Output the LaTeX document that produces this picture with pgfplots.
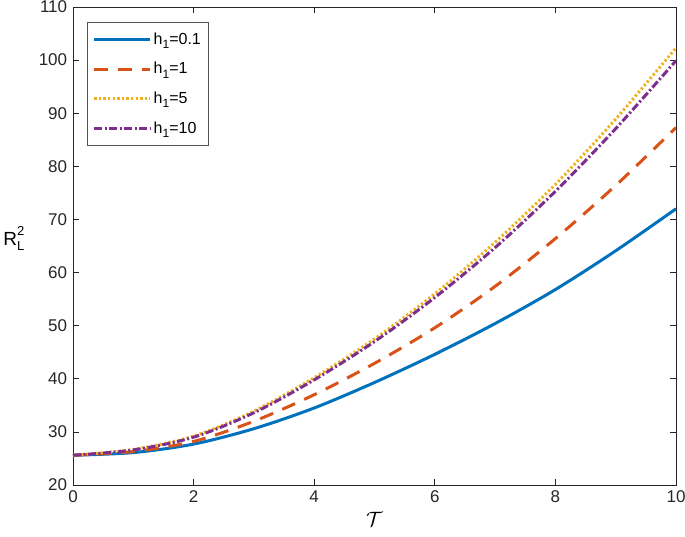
\documentclass[border=0pt]{standalone}
\usepackage{pgfplots}
\pgfplotsset{compat=1.18}
\usepackage{fontspec}
\setmainfont{Liberation Sans}
\definecolor{mblue}{rgb}{0,0.447,0.741}
\definecolor{mred}{rgb}{0.850,0.325,0.098}
\definecolor{myellow}{rgb}{0.929,0.694,0.125}
\definecolor{mpurple}{rgb}{0.494,0.184,0.556}
\definecolor{axgray}{rgb}{0.15,0.15,0.15}
\begin{document}
\fontsize{17}{20}\selectfont
\begin{tikzpicture}
\begin{axis}[
  scale only axis, width=603pt, height=478pt,
  xmin=0, xmax=10, ymin=20, ymax=110,
  xtick={0,2,4,6,8,10}, ytick={20,30,40,50,60,70,80,90,100,110},
  tick align=inside,
  /pgf/number format/assume math mode=true,
  ticklabel style={font=\fontsize{17}{20}\selectfont, text=axgray},
  axis line style={draw=axgray, line width=0.7pt},
  every tick/.style={draw=axgray, line width=0.7pt},
  major tick length=6pt,
  xlabel={$\mathcal{T}$},
  xlabel style={font=\fontsize{22}{24}\selectfont, yshift=2pt},
  ylabel={R\makebox[0pt][l]{\raisebox{-0.55ex}{\fontsize{13}{13}\selectfont L}}\raisebox{0.95ex}{\fontsize{13}{13}\selectfont 2}},
  ylabel style={rotate=-90, font=\fontsize{19}{21}\selectfont, at={(axis description cs:-0.098,0.515)}, anchor=center},
  legend style={at={(0.023,0.968)}, anchor=north west, draw=axgray!80, line width=0.7pt,
    font=\fontsize{16}{18}\selectfont, row sep=11.5pt, inner xsep=5.5pt, inner ysep=8pt},
  legend cell align=left,
  legend image code/.code={\draw[#1] (0pt,0pt) -- (56pt,0pt);},
]
\addplot[mblue, line width=3pt, smooth] coordinates {
(0,25.6) (1,26.1) (2,27.7) (3,30.6) (4,34.5) (5,39.3) (6,44.6) (7,50.4) (8,56.8) (9,64.1) (10,72.0)};
\addlegendentry{h\raisebox{-0.5ex}{\fontsize{12}{12}\selectfont 1}=0.1}
\addplot[mred, line width=3pt, smooth, dash pattern=on 14pt off 10pt] coordinates {
(0,25.6) (1,26.3) (2,28.2) (3,32.0) (4,37.0) (5,42.9) (6,49.6) (7,57.4) (8,66.4) (9,76.4) (10,87.3)};
\addlegendentry{h\raisebox{-0.5ex}{\fontsize{12}{12}\selectfont 1}=1}
\addplot[myellow, line width=3pt, smooth, dash pattern=on 2.3pt off 2.3pt] coordinates {
(0,25.6) (1,26.7) (2,29.2) (3,33.9) (4,40.2) (5,47.5) (6,56.0) (7,65.7) (8,76.6) (9,88.9) (10,102.3)};
\addlegendentry{h\raisebox{-0.5ex}{\fontsize{12}{12}\selectfont 1}=5}
\addplot[mpurple, line width=3pt, smooth, dash pattern=on 8pt off 2.5pt on 2pt off 2.5pt] coordinates {
(0,25.6) (1,26.6) (2,29.0) (3,33.6) (4,39.8) (5,47.0) (6,55.3) (7,64.7) (8,75.3) (9,87.1) (10,99.9)};
\addlegendentry{h\raisebox{-0.5ex}{\fontsize{12}{12}\selectfont 1}=10}
\end{axis}
\pgfresetboundingbox
\useasboundingbox ([xshift=-73pt,yshift=-52pt]current axis.south west) rectangle ([xshift=9pt,yshift=7pt]current axis.north east);
\end{tikzpicture}
\end{document}
